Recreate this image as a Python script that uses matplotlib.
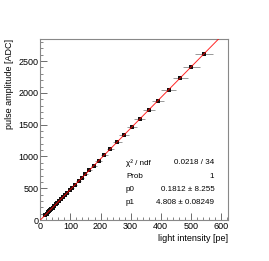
import numpy as np
import matplotlib
matplotlib.use("Agg")
import matplotlib.pyplot as plt
from matplotlib.ticker import MultipleLocator

plt.rcParams['font.family'] = ['Liberation Sans', 'DejaVu Sans']

# light intensity [pe] and pulse amplitude [ADC]
light = [17, 21, 25, 29, 33, 37, 41, 46, 51, 56, 62, 68, 74, 81, 89, 97, 106, 116,
         127, 138, 150, 163, 178, 194, 213, 233, 256, 278, 304, 331, 361, 391, 426,
         465, 502, 545]
amplitude = [82, 101, 120, 140, 159, 178, 197, 221, 245, 269, 298, 327, 356, 390,
             428, 467, 510, 558, 611, 664, 721, 784, 856, 933, 1024, 1120, 1231,
             1337, 1462, 1592, 1736, 1880, 2048, 2236, 2414, 2620]
light_err = [1, 1.2, 1.4, 1.6, 1.8, 2, 2.3, 2.5, 2.8, 3.1, 3.4, 3.7, 4.1, 4.5, 4.9,
             5.3, 5.8, 6.4, 7, 7.6, 8.3, 9, 9.8, 10.7, 11.7, 12.8, 14, 15.3, 16.7,
             18.2, 19.9, 21.5, 23.4, 25.6, 27.6, 30]
amp_err = [4, 4, 5, 5, 5, 6, 6, 6, 7, 7, 7, 8, 8, 8, 9, 9, 10, 10, 11, 11, 12, 12,
           13, 14, 14, 15, 16, 17, 18, 19, 20, 21, 22, 23, 24, 26]

p0, p1 = 0.1812, 4.808
stats_names = ["\u03c7\u00b2 / ndf", "Prob", "p0", "p1"]
stats_vals = ["0.0218 / 34", "1", "0.1812 \u00b1 8.255", "4.808 \u00b1 0.08249"]

fig = plt.figure(figsize=(2.69, 2.61), dpi=100)
ax = fig.add_axes([0.15, 0.157, 0.699, 0.694])

ax.errorbar(light, amplitude, xerr=light_err, yerr=amp_err, fmt='s', color='#111111',
            ms=2.7, mew=0, ecolor='#888888', elinewidth=0.6, capsize=0, zorder=3)
fx = np.array([0, 625])
ax.plot(fx, p0 + p1 * fx, color='red', lw=0.7, alpha=0.85, zorder=4)

ax.set_xlim(0, 625)
ax.set_ylim(0, 2850)
ax.xaxis.set_major_locator(MultipleLocator(100))
ax.xaxis.set_minor_locator(MultipleLocator(20))
ax.yaxis.set_major_locator(MultipleLocator(500))
ax.yaxis.set_minor_locator(MultipleLocator(100))
ax.tick_params(which='both', direction='in', labelsize=6.5, color='#555555',
               top=False, right=False, pad=1.5)
ax.tick_params(which='major', length=5, width=0.6)
ax.tick_params(which='minor', length=2.5, width=0.5)
for s in ax.spines.values():
    s.set_color('#888888')
    s.set_linewidth(0.8)

ax.set_xlabel("light intensity [pe]", fontsize=6.5, loc='right', labelpad=2)
ax.set_ylabel("pulse amplitude [ADC]", fontsize=6.5, loc='top', labelpad=3)

for i, (n, v) in enumerate(zip(stats_names, stats_vals)):
    yy = 0.315 - i * 0.072
    ax.text(0.455, yy, n, transform=ax.transAxes, fontsize=5.8, va='center', ha='left')
    ax.text(0.925, yy, v, transform=ax.transAxes, fontsize=5.8, va='center', ha='right')

fig.savefig("out.png", dpi=100)
